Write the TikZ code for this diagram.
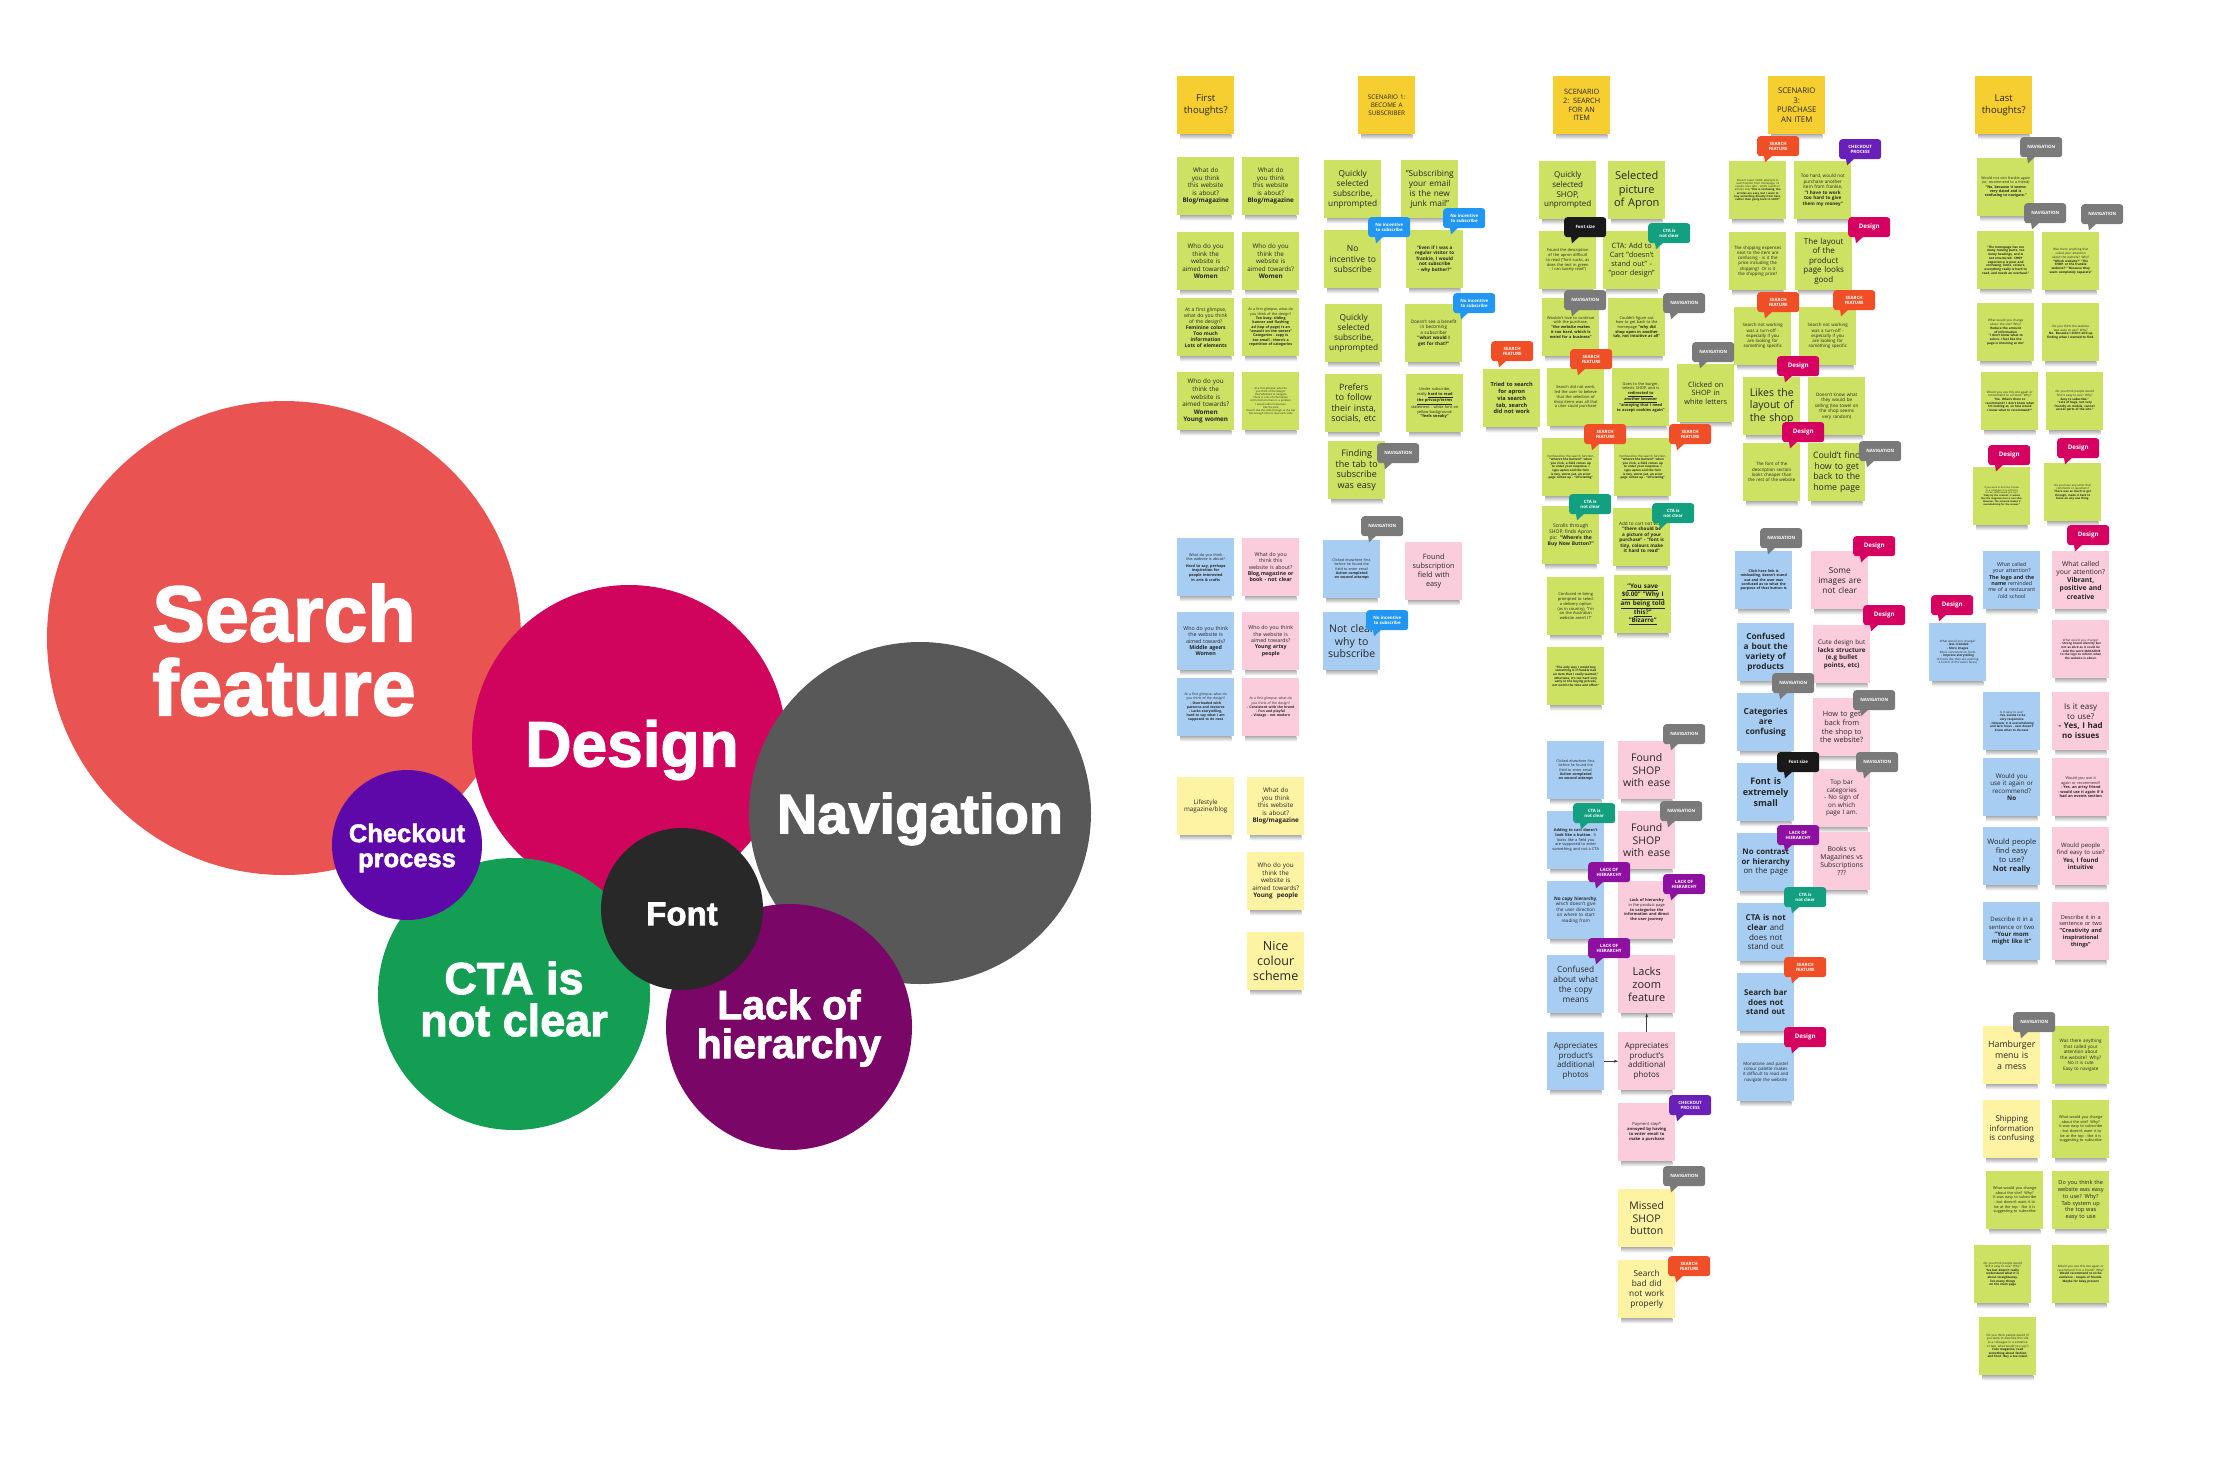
\documentclass[tikz,border=0pt]{standalone}
\usepackage{fontspec}
\setmainfont{Open Sans}
\newfontfamily\bubfont{Liberation Sans}[BoldFeatures={FakeBold=2}]
\usetikzlibrary{arrows.meta}
\hyphenpenalty=10000
\exhyphenpenalty=10000
\lefthyphenmin=62
\definecolor{sg}{RGB}{205,225,98}
\definecolor{sb}{RGB}{168,205,242}
\definecolor{sp}{RGB}{251,204,219}
\definecolor{sy}{RGB}{253,243,163}
\definecolor{hdr}{RGB}{246,206,48}
\definecolor{cSearch}{RGB}{233,84,82}
\definecolor{cDesign}{RGB}{208,4,92}
\definecolor{cNav}{RGB}{88,88,88}
\definecolor{cCheck}{RGB}{94,8,170}
\definecolor{cCta}{RGB}{19,158,84}
\definecolor{cFont}{RGB}{40,40,40}
\definecolor{cLack}{RGB}{122,6,104}
\definecolor{tNav}{RGB}{122,122,122}
\definecolor{tDes}{RGB}{214,0,96}
\definecolor{tSearch}{RGB}{240,78,38}
\definecolor{tCheck}{RGB}{104,32,184}
\definecolor{tCta}{RGB}{18,160,128}
\definecolor{tLack}{RGB}{142,16,160}
\definecolor{tFont}{RGB}{25,25,25}
\definecolor{tInc}{RGB}{33,150,243}
\newcommand\stk[6]{%
  \node[stk,fill=#4,font=\fontsize{#5}{\fpeval{1.2*#5}}\selectfont] (#1) at (#2,#3) {#6};
  \shade[top color=black!30,bottom color=white] ([xshift=3pt]#1.south west) rectangle ([xshift=-3pt,yshift=-5pt]#1.south east);}
\newcommand\tg[5]{%
  \node[tag,fill=#4] (#1) at (#2,#3) {#5};
  \fill[#4] ([xshift=7pt,yshift=0.5pt]#1.south west) -- ([xshift=15pt,yshift=0.5pt]#1.south west) -- ([xshift=8pt,yshift=-6pt]#1.south west) -- cycle;}
\newcommand\dsg{{\fontsize{6.2}{7}\selectfont Design}}
\newcommand\nav{NAVIGATION}
\newcommand\srch{SEARCH\\FEATURE}
\newcommand\ctab{CTA is\\not clear}
\newcommand\lack{LACK OF\\HIERARCHY}
\newcommand\chk{CHECKOUT\\PROCESS}
\newcommand\inc{No incentive\\to subscribe}
\begin{document}
\begin{tikzpicture}[x=1pt,y=-1pt,
  stk/.style={anchor=north west,minimum width=57pt,minimum height=58pt,text width=49pt,inner sep=4pt,align=center,text=black!85},
  tag/.style={anchor=north west,minimum width=42pt,minimum height=20pt,inner sep=1pt,rounded corners=3pt,text=white,align=center,font=\bfseries\fontsize{4.4}{5.2}\selectfont},
  bub/.style={circle,inner sep=0pt},
  btxt/.style={text=white,align=center,inner sep=0pt},
  arr/.style={-{Stealth[length=4pt,width=3pt]},black!75,line width=0.6pt}]
\useasboundingbox (0,0) rectangle (2237,1467);
\fill[white] (0,0) rectangle (2237,1467);
% ---------- bubbles ----------
\node[bub,fill=cSearch,minimum size=474pt] (search) at (284,638) {};
\node[bub,fill=cDesign,minimum size=314pt] (design) at (629,742) {};
\node[bub,fill=cNav,minimum size=342pt] (navig) at (920,813) {};
\node[bub,fill=cCta,minimum size=272pt] (cta) at (514,994) {};
\node[bub,fill=cCheck,minimum size=150pt] (checkout) at (407,845) {};
\node[bub,fill=cLack,minimum size=246pt] (lack) at (789,1027) {};
\node[bub,fill=cFont,minimum size=162pt] (fontb) at (682,909) {};
\node[btxt,font=\bubfont\bfseries\fontsize{79}{74}\selectfont] (searchT) at (284,650) {Search\\feature};
\node[btxt,font=\bubfont\bfseries\fontsize{64}{64}\selectfont] (designT) at (632,750) {Design};
\node[btxt,font=\bubfont\bfseries\fontsize{56}{56}\selectfont] (navigT) at (920,819) {Navigation};
\node[btxt,font=\bubfont\bfseries\fontsize{45}{42}\selectfont] (ctaT) at (514,999) {CTA is\\not clear};
\node[btxt,font=\bubfont\bfseries\fontsize{25.5}{25}\selectfont] (checkoutT) at (407,848) {Checkout\\process};
\node[btxt,font=\bubfont\bfseries\fontsize{41}{39}\selectfont] (lackT) at (789,1028) {Lack of\\hierarchy};
\node[btxt,font=\bubfont\bfseries\fontsize{33}{33}\selectfont] (fontT) at (682,914) {Font};
% ---------- column 1 ----------
\stk{c1h}{1177}{76}{hdr}{9.5}{First\\thoughts?}
\stk{c1a1}{1177}{157}{sg}{6.3}{What do you think this website is about?\\\textbf{Blog/magazine}}
\stk{c1b1}{1242}{157}{sg}{6.3}{What do you think this website is about?\\\textbf{Blog/magazine}}
\stk{c1a2}{1177}{232}{sg}{6.3}{Who do you think the website is aimed towards?\\\textbf{Women}}
\stk{c1b2}{1242}{232}{sg}{6.3}{Who do you think the website is aimed towards?\\\textbf{Women}}
\stk{c1a3}{1177}{298}{sg}{5}{At a first glimpse, what do you think of the design?\\\textbf{Feminine colors\\Too much information\\Lots of elements}}
\stk{c1b3}{1242}{298}{sg}{3.6}{At a first glimpse, what do you think of the design?\\\textbf{Too busy, sliding banner and flashing ad (top of page) is an "assault on the senses"\\Categories - copy is too small - there's a repetition of categories}}
\stk{c1a4}{1177}{372}{sg}{6.3}{Who do you think the website is aimed towards?\\\textbf{Women\\Young women}}
\stk{c1b4}{1242}{372}{sg}{2.6}{At a first glimpse, what do you think of the design?\\Overwhelmed to navigate\\There is a lot of information\\At the bottom there is a problem\\I would rather travel less\\Like the pink\\Doesn't like the slide through at the top\\Not enough time to read each slide}
\stk{c1a5}{1177}{538}{sb}{3.8}{What do you think this website is about?\\[2pt]\textbf{Hard to say, perhaps inspiration for people interested in arts \& crafts}}
\stk{c1b5}{1242}{538}{sp}{5.3}{What do you think this website is about?\\\textbf{Blog,magazine or book - not clear}}
\stk{c1a6}{1177}{612}{sb}{5.3}{Who do you think the website is aimed towards?\\\textbf{Middle aged Women}}
\stk{c1b6}{1242}{612}{sp}{5.3}{Who do you think the website is aimed towards?\\\textbf{Young artsy people}}
\stk{c1a7}{1177}{678}{sb}{3.4}{At a first glimpse, what do you think of the design?\\\textbf{- Overloaded with patterns and textures\\- Lacks storytelling, hard to say what I am supposed to do next}}
\stk{c1b7}{1242}{678}{sp}{3.4}{At a first glimpse, what do you think of the design?\\\textbf{- Consistent with the brand\\- Fun and playful\\- Vintage - not modern}}
\stk{c1y1}{1177}{777}{sy}{6.3}{Lifestyle magazine/blog}
\stk{c1y2}{1247}{777}{sy}{6.3}{What do you think this website is about?\\\textbf{Blog/magazine}}
\stk{c1y3}{1247}{852}{sy}{6.3}{Who do you think the website is aimed towards?\\\textbf{Young\ \ people}}
\stk{c1y4}{1247}{932}{sy}{12.5}{Nice colour scheme}
% ---------- column 2 ----------
\stk{c2h}{1358}{76}{hdr}{6.3}{SCENARIO 1:\\BECOME A\\SUBSCRIBER}
\stk{c2a1}{1324}{160}{sg}{8.3}{Quickly selected subscribe, unprompted}
\stk{c2b1}{1401}{160}{sg}{8.3}{"Subscribing your email is the new junk mail"}
\stk{c2a2}{1324}{230}{sg}{8.5}{No\\incentive to\\subscribe}
\stk{c2b2}{1406}{230}{sg}{4.6}{\textbf{"Even if I was a regular visitor to frankie, I would not subscribe - why bother?"}}
\stk{c2a3}{1325}{304}{sg}{8.3}{Quickly selected subscribe, unprompted}
\stk{c2b3}{1405}{304}{sg}{4.6}{Doesn't see a benefit in becoming a subscriber \textbf{"what would I get for that?"}}
\stk{c2a4}{1325}{374}{sg}{8.8}{Prefers to follow their insta, socials, etc}
\stk{c2b4}{1406}{374}{sg}{3.9}{Under subscribe, really \textbf{\underline{hard to read}}\\\textbf{\underline{the privacy/terms}} statement - white font on yellow background: \textbf{"feels sneaky"}}
\stk{c2a5}{1328}{441}{sg}{9}{Finding the tab to subscribe was easy}
\stk{c2c1}{1323}{540}{sb}{3.6}{Clicked elsewhere first, before he found the field to enter email\\\textbf{Action completed on second attempt}}
\stk{c2d1}{1405}{542}{sp}{7.3}{Found subscription field with easy}
\stk{c2c2}{1323}{612}{sb}{10.5}{Not clear why to subscribe}
% ---------- column 3 ----------
\stk{c3h}{1553}{76}{hdr}{7.3}{SCENARIO\\2: SEARCH\\FOR AN\\ITEM}
\stk{c3a1}{1539}{161}{sg}{8}{Quickly selected SHOP, unprompted}
\stk{c3b1}{1608}{161}{sg}{11}{Selected picture of Apron}
\stk{c3a2}{1539}{231}{sg}{4}{Found the description of the apron difficult to read ("font sucks, as does the text in green - I can barely read")}
\stk{c3b2}{1603}{231}{sg}{7.3}{CTA: Add to Cart "doesn't stand out" - "poor design"}
\stk{c3a3}{1542}{298}{sg}{3.9}{Wouldn't love to continue with the purchase, \textbf{"the website makes it too hard, which is weird for a business"}}
\stk{c3b3}{1608}{298}{sg}{3.9}{Couldn't figure out how to get back to the homepage \textbf{"why did shop open in another tab, not intuitive at all"}}
\stk{c3x}{1483}{369}{sg}{5.6}{\textbf{Tried to search for apron via search tab, search did not work}}
\stk{c3a4}{1547}{368}{sg}{4}{Search did not work, led the user to believe that the selection of shop items was all that a user could purchase}
\stk{c3b4}{1612}{368}{sg}{3.9}{Goes to the burger, selects SHOP, and is\\\textbf{\underline{redirected to}}\\\textbf{\underline{another browser}} \textbf{"annoying that I need to accept cookies again"}}
\stk{c3c4}{1677}{364}{sg}{7.3}{Clicked on SHOP in white letters}
\stk{c3a5}{1542}{438}{sg}{3}{Confused by the search function, \textbf{"where's the button?" when you click, a field comes up to enter your response, I type apron and the font is tiny, worst yet, an error page comes up - "infuriating"}}
\stk{c3b5}{1614}{438}{sg}{3}{Confused by the search function, \textbf{"where's the button?" when you click, a field comes up to enter your response, I type apron and the font is tiny, worst yet, an error page comes up - "infuriating"}}
\stk{c3a6}{1542}{506}{sg}{5}{Scrolls through SHOP, finds Apron pic: \textbf{"Where's the Buy Now Button?"}}
\stk{c3b6}{1613}{508}{sg}{4.6}{Add to cart not work \textbf{"there should be a picture of your purchase" - "font is tiny, colours make it hard to read"}}
\stk{c3a7}{1547}{577}{sg}{4}{Confused re being prompted to select a delivery option (as in country), "I'm on the Australian website aren't I?"}
\stk{c3b7}{1614}{575}{sg}{6.3}{\textbf{\underline{"You save}\\\underline{\$0.00" "Why I}\\\underline{am being told}\\\underline{this?"}\\\underline{"Bizarre"}}}
\stk{c3a8}{1547}{647}{sg}{3}{\textbf{"The only way I would buy something is if frankie had an item that I really wanted," otherwise, it's too hard very early in the buying process, not worth the time and effort"}}
\stk{c3l1}{1547}{741}{sb}{3.6}{Clicked elsewhere first, before he found the field to enter email\\\textbf{Action completed on second attempt}}
\stk{c3r1}{1618}{741}{sp}{10.5}{Found SHOP with ease}
\stk{c3l2}{1547}{811}{sb}{3.9}{\textbf{Adding to cart doesn't look like a button.} It looks like a field you are supposed to enter something and not a CTA}
\stk{c3r2}{1618}{811}{sp}{10.5}{Found SHOP with ease}
\stk{c3l3}{1547}{881}{sb}{4.6}{\textbf{No copy hierarchy}, which doesn't give the user direction on where to start reading from}
\stk{c3r3}{1618}{881}{sp}{3.9}{\textbf{Lack of hierarchy} in the product page \textbf{to categorise the information and direct the user journey}}
\stk{c3l4}{1547}{955}{sb}{8.3}{Confused about what the copy means}
\stk{c3r4}{1618}{955}{sp}{11}{Lacks zoom feature}
\stk{c3l5}{1547}{1032}{sb}{8}{Appreciates product's additional photos}
\stk{c3r5}{1618}{1032}{sp}{8}{Appreciates product's additional photos}
\stk{c3r6}{1618}{1103}{sp}{4.1}{Payment step* \textbf{annoyed by having to enter email to make a purchase}}
\stk{c3r7}{1618}{1189}{sy}{10.5}{Missed SHOP button}
\stk{c3r8}{1618}{1260}{sy}{8.3}{Search bad did not work properly}
\draw[arr] (c3l5.east) -- (c3r5.west);
\draw[arr] (c3r5.north) -- (c3r4.south);
% ---------- column 4 ----------
\stk{c4h}{1768}{76}{hdr}{7.8}{SCENARIO\\3:\\PURCHASE\\AN ITEM}
\stk{c4a1}{1729}{161}{sg}{2.7}{Doesn't select SHOP, attempts to search Apron from homepage, nil results, tries tabs - which results in articles only \textbf{"this is confusing, the articles are easy, but I want to buy something directly from here, rather than going back to SHOP"}}
\stk{c4b1}{1794}{161}{sg}{4.6}{Too hard, would not purchase another item from frankie, \textbf{"I have to work too hard to give them my money"}}
\stk{c4a2}{1729}{232}{sg}{4.4}{The shipping expenses next to the item are confusing - is it the price including the shipping? Or is it the shipping price?}
\stk{c4b2}{1795}{232}{sg}{8}{The layout of the product page looks good}
\stk{c4a3}{1734}{307}{sg}{4.4}{Search not working was a turn-off - especially if you are looking for something specific}
\stk{c4b3}{1799}{307}{sg}{4.4}{Search not working was a turn-off - especially if you are looking for something specific}
\stk{c4a4}{1743}{377}{sg}{10.5}{Likes the layout of the shop}
\stk{c4b4}{1808}{377}{sg}{4.6}{Doesn't know what they would be selling (tea towel on the shop seems very random)}
\stk{c4a5}{1743}{443}{sg}{4.4}{The font of the description section looks cheaper than the rest of the website}
\stk{c4b5}{1808}{443}{sg}{8.8}{Could't find how to get back to the home page}
\stk{c4l1}{1735}{551}{sb}{3.6}{\textbf{Click here link is misleading, doesn't stand out and the user was confused as to what the purpose of that button is}}
\stk{c4r1}{1811}{551}{sp}{8.3}{Some images are not clear}
\stk{c4l2}{1737}{623}{sb}{8.3}{\textbf{Confused a bout the variety of products}}
\stk{c4r2}{1813}{625}{sp}{6.3}{Cute design but \textbf{lacks structure (e.g bullet points, etc)}}
\stk{c4l3}{1737}{693}{sb}{8.3}{\textbf{Categories are confusing}}
\stk{c4r3}{1813}{698}{sp}{7.3}{How to get back from the shop to the website?}
\stk{c4l4}{1737}{763}{sb}{9}{\textbf{Font is extremely small}}
\stk{c4r4}{1813}{769}{sp}{6.3}{Top bar categories\\- No sign of on which page I am.}
\stk{c4l5}{1737}{833}{sb}{7.8}{\textbf{No contrast or hierarchy} on the page}
\stk{c4r5}{1813}{832}{sp}{6.8}{Books vs Magazines vs Subscriptions ???}
\stk{c4l6}{1737}{903}{sb}{8}{\textbf{CTA is not clear} and does not stand out}
\stk{c4l7}{1737}{973}{sb}{8}{\textbf{Search bar does not stand out}}
\stk{c4l8}{1737}{1043}{sb}{4.4}{Monotone and pastel colour palette makes it difficult to read and navigate the website}
% ---------- column 5 ----------
\stk{c5h}{1975}{76}{hdr}{9.5}{Last\\thoughts?}
\stk{c5a1}{1977}{158}{sg}{3.6}{Would not visit frankie again (or, recommend to a friend)\\\textbf{"No, because it seems very dated and is confusing to navigate."}}
\stk{c5a2}{1977}{231}{sg}{3.1}{\textbf{"The homepage has too many moving parts, too many headings, and is not structured. SHOP experience is poor and confusing, fonts, colours, everything really is hard to read, and needs an overhaul."}}
\stk{c5b2}{2042}{232}{sg}{3.1}{Was there anything that called your attention about the website? Why?\\\textbf{"Which website?" "The SHOP, or the frankie website?" "Because they seem completely separate"}}
\stk{c5a3}{1977}{303}{sg}{3.1}{What would you change about the site? Why?\\\textbf{Reduce the amount of information\\"I don't know what to select, I feel like the page is shouting at me"}}
\stk{c5b3}{2042}{303}{sg}{3.1}{Do you think the website was easy to use? Why?\\\textbf{No. Because I didn't end up finding what I wanted to find.}}
\stk{c5a4}{1981}{372}{sg}{3}{Would you use this site again or recommend to a friend? Why?\\\textbf{"No. What's there to recommend? I don't know what I'm looking at, so how would I know what to recommend?"}}
\stk{c5b4}{2046}{372}{sg}{3}{Do you think people would find it easy to use? Why?\\\textbf{Easy to subscribe." "Lots of bugs, not very friendly on mobile, cannot access parts of the site."}}
\stk{c5a5}{1973}{467}{sg}{2.4}{If you were to describe frankie to a colleague in a sentence or two, what would you say?\\\textbf{"Easy by the content, it seems like the magazine has a cool vibe. However, the artwork makes it overwhelming for the viewer."}}
\stk{c5b5}{2044}{463}{sg}{2.8}{Do you have any other final comments or questions?\\\textbf{There was so much to get through, made it hard to focus on any one thing.}}
\stk{c5c1}{1983}{551}{sb}{5.3}{What called your attention?\\\textbf{The logo and the name} reminded me of a restaurant /old school}
\stk{c5d1}{2052}{551}{sp}{6.8}{What called your attention? \textbf{Vibrant, positive and creative}}
\stk{c5c2}{1929}{623}{sb}{3}{What would you change?\\\textbf{- less crowded\\- More images}\\More consistent on fonts\\\textbf{- Improve storytelling}\\(it looks like they are pushing a bunch in the users faces)}
\stk{c5d2}{2052}{620}{sp}{3}{What would you change?\\\textbf{- Strong brand identity but not as slick as it could be\\- Add the word MAGAZINE to the logo to inform what the website is about.}}
\stk{c5c3}{1983}{692}{sb}{3}{Is it easy to use?\\\textbf{- Yes, seems to be very responsive\\- However it is overwhelming and lack focus - user doesn't know what to do next}}
\stk{c5d3}{2052}{692}{sp}{8}{Is it easy to use?\\\textbf{- Yes, I had no issues}}
\stk{c5c4}{1983}{758}{sb}{6.3}{Would you use it again or recommend?\\\textbf{No}}
\stk{c5d4}{2052}{758}{sp}{3.8}{Would you use it again or recommend?\\\textbf{- Yes, an artsy friend\\- would use it again if it had an events section}}
\stk{c5c5}{1983}{827}{sb}{7.5}{Would people find easy to use?\\\textbf{Not really}}
\stk{c5d5}{2052}{827}{sp}{6}{Would people find easy to use?\\\textbf{Yes, I found intuitive}}
\stk{c5c6}{1983}{902}{sb}{6}{Describe it in a sentence or two\\\textbf{"Your mom might like it"}}
\stk{c5d6}{2052}{902}{sp}{5.6}{Describe it in a sentence or two\\\textbf{"Creativity and inspirational things"}}
\stk{c5y1}{1983}{1026}{sy}{8.8}{Hamburger menu is a mess}
\stk{c5g1}{2052}{1026}{sg}{4.6}{Was there anything that called your attention about the website? Why?\\No it is cute\\Easy to navigate}
\stk{c5y2}{1983}{1100}{sy}{8}{Shipping information is confusing}
\stk{c5g2}{2052}{1100}{sg}{3.8}{What would you change about the site? Why?\\It was easy to subscribe - but doesn't want it to be at the top - like it is suggesting to subscribe}
\stk{c5g3}{1986}{1171}{sg}{3.8}{What would you change about the site? Why?\\It was easy to subscribe - but doesn't want it to be at the top - like it is suggesting to subscribe}
\stk{c5g4}{2052}{1171}{sg}{5.6}{Do you think the website was easy to use? Why?\\Tab system up the top was easy to use}
\stk{c5g5}{1974}{1245}{sg}{3}{Do you think people would find it easy to use? Why?\\\textbf{Yes but doesn't really understand what it is about straightaway.\\Too many things on the main page}}
\stk{c5g6}{2052}{1245}{sg}{3}{Would you use this site again or recommend it to a friend? Why?\\\textbf{Would recommend to niche audience - couple of friends.\\Maybe for bday present}}
\stk{c5g7}{1979}{1317}{sg}{3}{Do you think people would (if you were to describe this site to a colleague in a sentence or two, what would you say?)\\\textbf{Cute magazine, read something about fashion and food. Buy a tea towel.}}
% ---------- badges ----------
\tg{t1}{1368}{217}{tInc}{\inc}
\tg{t2}{1443}{208}{tInc}{\inc}
\tg{t3}{1453}{293}{tInc}{\inc}
\tg{t4}{1377}{443}{tNav}{\nav}
\tg{t5}{1361}{516}{tNav}{\nav}
\tg{t6}{1366}{610}{tInc}{\inc}
\tg{t7}{1564}{217}{tFont}{Font size}
\tg{t8}{1648}{223}{tCta}{\ctab}
\tg{t9}{1564}{290}{tNav}{\nav}
\tg{t10}{1663}{293}{tNav}{\nav}
\tg{t11}{1491}{341}{tSearch}{\srch}
\tg{t12}{1570}{349}{tSearch}{\srch}
\tg{t13}{1692}{342}{tNav}{\nav}
\tg{t14}{1584}{424}{tSearch}{\srch}
\tg{t15}{1669}{424}{tSearch}{\srch}
\tg{t16}{1569}{494}{tCta}{\ctab}
\tg{t17}{1652}{503}{tCta}{\ctab}
\tg{t18}{1663}{724}{tNav}{\nav}
\tg{t19}{1573}{803}{tCta}{\ctab}
\tg{t20}{1660}{801}{tNav}{\nav}
\tg{t21}{1588}{862}{tLack}{\lack}
\tg{t22}{1663}{874}{tLack}{\lack}
\tg{t23}{1588}{938}{tLack}{\lack}
\tg{t24}{1669}{1095}{tCheck}{\chk}
\tg{t25}{1663}{1166}{tNav}{\nav}
\tg{t26}{1668}{1256}{tSearch}{\srch}
\tg{t27}{1757}{136}{tSearch}{\srch}
\tg{t28}{1839}{139}{tCheck}{\chk}
\tg{t29}{1848}{217}{tDes}{\dsg}
\tg{t30}{1757}{292}{tSearch}{\srch}
\tg{t31}{1833}{290}{tSearch}{\srch}
\tg{t32}{1777}{356}{tDes}{\dsg}
\tg{t33}{1782}{422}{tDes}{\dsg}
\tg{t34}{1859}{441}{tNav}{\nav}
\tg{t35}{1760}{528}{tNav}{\nav}
\tg{t36}{1853}{536}{tDes}{\dsg}
\tg{t37}{1863}{605}{tDes}{\dsg}
\tg{t38}{1772}{673}{tNav}{\nav}
\tg{t39}{1853}{690}{tNav}{\nav}
\tg{t40}{1777}{752}{tFont}{Font size}
\tg{t41}{1856}{752}{tNav}{\nav}
\tg{t42}{1777}{825}{tLack}{\lack}
\tg{t43}{1784}{887}{tCta}{\ctab}
\tg{t44}{1784}{957}{tSearch}{\srch}
\tg{t45}{1784}{1027}{tDes}{\dsg}
\tg{t46}{2020}{137}{tNav}{\nav}
\tg{t47}{2024}{203}{tNav}{\nav}
\tg{t48}{2081}{204}{tNav}{\nav}
\tg{t49}{1988}{445}{tDes}{\dsg}
\tg{t50}{2057}{438}{tDes}{\dsg}
\tg{t51}{2067}{525}{tDes}{\dsg}
\tg{t52}{1931}{595}{tDes}{\dsg}
\tg{t53}{2013}{1012}{tNav}{\nav}
\end{tikzpicture}
\end{document}
